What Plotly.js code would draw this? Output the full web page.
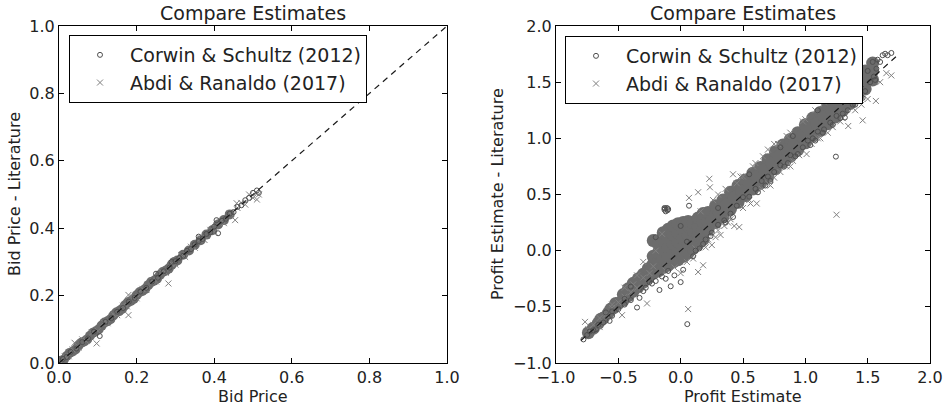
<!DOCTYPE html>
<html>
<head>
<meta charset="utf-8">
<script src="https://cdn.plot.ly/plotly-3.0.1.min.js"></script>
<style>html,body{margin:0;padding:0;background:#fff;}#chart{width:947px;height:410px;}</style>
</head>
<body>
<div id="chart"></div>
<script>
// ---------- Text ----------
const chartTitle = "Compare Estimates";
const seriesNames = ["Corwin & Schultz (2012)", "Abdi & Ranaldo (2017)"];
const leftXLabel = "Bid Price";
const leftYLabel = "Bid Price - Literature";
const rightXLabel = "Profit Estimate";
const rightYLabel = "Profit Estimate - Literature";

// ---------- 45-degree reference lines ----------
const leftDiagX = [0, 1];
const leftDiagY = [0, 1];
const rightDiagX = [-0.8, 1.75];
const rightDiagY = [-0.8, 1.75];

// ---------- Left panel: dense overlapping core ----------
const lCoreX = [0.005,0.02,0.035,0.05,0.065,0.08,0.095,0.11,0.125,0.14,0.155,0.17,0.185,0.20,0.215,0.23,0.245,0.26,0.275,0.29,0.305,0.32,0.335,0.35,0.365,0.38,0.395,0.41,0.425,0.44,
  0.0125,0.0275,0.0425,0.0575,0.0725,0.0875,0.1025,0.1175,0.1325,0.1475,0.1625,0.1775,0.1925,0.2075,0.2225,0.2375,0.2525,0.2675,0.2825,0.2975];
const lCoreY = [0.007,0.021,0.034,0.051,0.064,0.081,0.094,0.111,0.124,0.141,0.154,0.171,0.184,0.201,0.214,0.231,0.244,0.261,0.274,0.291,0.304,0.321,0.334,0.351,0.364,0.381,0.394,0.411,0.424,0.441,
  0.010,0.030,0.040,0.060,0.070,0.090,0.100,0.120,0.130,0.150,0.160,0.180,0.190,0.210,0.220,0.240,0.250,0.270,0.280,0.300];

// Left panel: Corwin & Schultz (2012)
const lCsX = [0.01,0.02,0.03,0.045,0.06,0.075,0.09,0.105,0.12,0.135,0.15,0.165,0.18,0.195,0.21,0.225,0.24,0.255,0.27,0.285,0.30,0.31,0.32,0.33,0.34,0.35,0.36,0.37,0.38,0.39,0.40,0.41,0.42,0.43,0.44,0.45,0.46,0.47,0.48,0.49,0.50,0.51,0.515,0.406,0.36,0.29,0.25];
const lCsY = [0.012,0.018,0.033,0.043,0.062,0.073,0.093,0.08,0.122,0.133,0.152,0.163,0.182,0.193,0.212,0.223,0.242,0.253,0.272,0.283,0.302,0.312,0.318,0.333,0.338,0.352,0.362,0.368,0.383,0.388,0.405,0.385,0.422,0.428,0.443,0.448,0.463,0.468,0.483,0.49,0.505,0.512,0.505,0.424,0.375,0.30,0.265];

// Left panel: Abdi & Ranaldo (2017)
const lArX = [0.005,0.015,0.025,0.035,0.05,0.06,0.07,0.085,0.097,0.10,0.115,0.125,0.14,0.15,0.165,0.175,0.179,0.19,0.20,0.215,0.225,0.24,0.25,0.265,0.275,0.282,0.29,0.30,0.315,0.325,0.34,0.35,0.365,0.375,0.39,0.40,0.415,0.425,0.44,0.454,0.46,0.47,0.48,0.49,0.50,0.51,0.515,0.179,0.04,0.458];
const lArY = [0.0,0.02,0.02,0.04,0.045,0.07,0.065,0.09,0.058,0.095,0.12,0.118,0.145,0.142,0.17,0.168,0.142,0.195,0.192,0.22,0.218,0.245,0.242,0.27,0.268,0.236,0.295,0.292,0.32,0.315,0.345,0.342,0.37,0.365,0.395,0.39,0.42,0.415,0.445,0.424,0.46,0.475,0.47,0.50,0.49,0.485,0.50,0.202,0.06,0.474];

// ---------- Right panel: dense overlapping core ----------
const rCoreX = [-0.74,-0.70,-0.66,-0.62,-0.58,-0.54,-0.50,-0.64,-0.56,-0.52,
  -0.46,-0.46,-0.42,-0.42,-0.38,-0.38,-0.34,-0.34,-0.30,-0.30,-0.26,-0.26,-0.22,-0.22,-0.22,-0.22,
  -0.18,-0.18,-0.18,-0.18, -0.14,-0.14,-0.14,-0.14,-0.14, -0.10,-0.10,-0.10,-0.10,-0.10,
  -0.06,-0.06,-0.06,-0.06,-0.06, -0.02,-0.02,-0.02,-0.02,-0.02, 0.02,0.02,0.02,0.02,0.02,
  0.06,0.06,0.06,0.06,0.06, 0.10,0.10,0.10,0.10, 0.14,0.14,0.14,0.14, 0.18,0.18,0.18,0.18,
  0.22,0.22,0.22, 0.28,0.28,0.28, 0.34,0.34,0.34, 0.40,0.40,0.40, 0.46,0.46,0.46, 0.52,0.52,0.52,
  0.58,0.58,0.58, 0.64,0.64,0.64, 0.70,0.70,0.70, 0.76,0.76,0.76, 0.82,0.82,0.82, 0.88,0.88,0.88,
  0.94,0.94,0.94, 1.00,1.00,1.00, 1.06,1.06,1.06, 1.12,1.12,1.12, 1.18,1.18,1.18, 1.24,1.24,1.24,
  1.30,1.30,1.30, 1.36,1.36,1.36, 1.42,1.42,1.42, 1.48,1.48,1.48, 1.54,1.54,1.54,
  0.25,0.31,0.37,0.43,0.49,0.55,0.61,0.67,0.73,0.79,0.85,0.91,0.97,1.03,1.09,1.15,1.21,1.27,1.33,1.39,1.45,1.51];
const rCoreY = [-0.73,-0.69,-0.645,-0.60,-0.555,-0.51,-0.47,-0.61,-0.52,-0.47,
  -0.44,-0.39,-0.40,-0.34,-0.36,-0.29,-0.32,-0.25,-0.28,-0.21,-0.24,-0.16,-0.20,-0.12,-0.05,0.09,
  -0.18,-0.10,-0.02,0.06, -0.15,-0.07,0.01,0.09,0.16, -0.13,-0.05,0.03,0.11,0.19,
  -0.10,-0.02,0.06,0.14,0.22, -0.08,0.0,0.08,0.16,0.24, -0.05,0.03,0.11,0.19,0.25,
  -0.02,0.06,0.14,0.22,0.26, 0.02,0.10,0.18,0.25, 0.06,0.14,0.22,0.29, 0.10,0.18,0.26,0.33,
  0.19,0.26,0.34, 0.25,0.32,0.40, 0.30,0.38,0.45, 0.37,0.44,0.52, 0.43,0.50,0.58, 0.49,0.56,0.63,
  0.55,0.62,0.69, 0.60,0.68,0.74, 0.66,0.74,0.81, 0.73,0.80,0.88, 0.79,0.86,0.94, 0.84,0.92,0.99,
  0.90,0.98,1.05, 0.96,1.04,1.12, 1.02,1.10,1.18, 1.07,1.15,1.23, 1.13,1.21,1.29, 1.19,1.27,1.35,
  1.25,1.33,1.41, 1.31,1.39,1.47, 1.37,1.45,1.53, 1.44,1.52,1.60, 1.52,1.60,1.67,
  0.27,0.34,0.41,0.47,0.53,0.60,0.66,0.72,0.78,0.84,0.90,0.96,1.02,1.08,1.13,1.19,1.25,1.31,1.37,1.43,1.49,1.56];

// Right panel: Corwin & Schultz (2012)
const rCsX = [-0.78,-0.75,-0.73,-0.70,-0.68,-0.66,-0.62,-0.57,-0.55,-0.50,-0.45,-0.40,-0.35,-0.33,-0.30,-0.28,-0.23,-0.20,-0.17,-0.15,-0.12,-0.08,-0.05,0.00,0.02,0.053,0.05,0.067,-0.10,-0.13,-0.20,
  0.10,0.15,0.20,0.25,0.30,0.35,0.40,0.45,0.50,0.55,0.60,0.65,0.70,0.75,0.80,0.83,0.88,0.94,0.98,1.02,1.06,1.10,1.15,1.20,1.25,1.245,1.30,1.317,1.38,1.42,1.48,1.52,1.55,1.56,1.57,1.60,1.62,1.64,1.66,1.69,1.58,1.54,1.50,
  0.30,0.55,0.80,1.10,-0.40,-0.60,0.0,0.90,
  0.12,0.18,0.24,0.36,0.42,0.62,0.68,0.72,0.86,0.92,1.04,1.08,1.14,1.22,1.28,1.34,1.40,1.46,-0.55,-0.45,-0.25,-0.10,
  -0.13,-0.11,-0.12,-0.105,-0.125];
const rCsY = [-0.79,-0.75,-0.72,-0.71,-0.70,-0.66,-0.64,-0.625,-0.58,-0.52,-0.48,-0.44,-0.506,-0.42,-0.36,-0.33,-0.293,-0.27,-0.35,-0.23,-0.25,-0.317,-0.22,-0.28,-0.17,-0.654,0.08,0.40,0.37,0.38,0.12,
  -0.05,0.02,0.10,0.16,0.23,0.27,0.33,0.40,0.476,0.48,0.55,0.62,0.66,0.70,0.76,0.748,0.85,0.86,0.92,0.98,1.00,1.06,1.08,1.14,1.20,0.837,1.22,1.185,1.30,1.38,1.42,1.50,1.55,1.52,1.62,1.68,1.74,1.753,1.74,1.76,1.70,1.68,1.60,
  0.38,0.68,0.92,1.25,-0.32,-0.55,0.22,1.02,
  0.0,0.06,0.13,0.25,0.30,0.52,0.58,0.62,0.78,0.84,0.94,0.98,1.05,1.12,1.18,1.25,1.30,1.36,-0.54,-0.43,-0.28,-0.18,
  0.365,0.38,0.35,0.36,0.375];

// Right panel: Abdi & Ranaldo (2017)
const rArX = [-0.767,-0.74,-0.70,-0.65,-0.60,-0.55,-0.50,-0.47,-0.45,-0.40,-0.38,-0.35,-0.30,-0.27,-0.25,-0.22,-0.12,-0.05,0.00,0.06,0.05,0.10,0.14,0.18,0.20,0.22,0.25,0.28,0.30,0.32,0.35,0.38,0.43,0.47,0.50,0.55,0.61,0.65,0.70,0.75,0.80,0.85,0.90,0.95,1.01,1.05,1.10,1.18,1.22,1.28,1.344,1.40,1.46,1.45,1.50,1.566,1.60,1.65,1.69,1.25,
  0.067,0.14,0.23,0.235,0.42,0.45,0.60,0.70,0.75,0.85,1.00,1.15,1.25,-0.30,-0.45,-0.15,0.30,0.50,
  0.16,0.26,0.36,0.48,0.58,0.66,0.78,0.88,0.98,1.08,1.18,0.40,0.56,0.72,0.88,1.12,1.30,-0.35,-0.55,-0.20,-0.65,0.12];
const rArY = [-0.634,-0.70,-0.66,-0.60,-0.57,-0.51,-0.46,-0.574,-0.41,-0.37,-0.30,-0.33,-0.24,-0.47,-0.20,-0.14,-0.18,-0.15,-0.20,-0.52,-0.10,-0.07,-0.19,-0.13,0.03,0.10,0.05,0.12,0.18,0.14,0.22,0.25,0.22,0.21,0.38,0.45,0.42,0.55,0.60,0.65,0.70,0.75,0.80,0.85,0.86,0.95,1.00,1.05,1.10,1.15,1.11,1.25,1.16,1.30,1.35,1.333,1.50,1.58,1.56,0.32,
  0.47,0.52,0.64,0.564,0.68,0.60,0.78,0.90,0.95,1.02,1.17,1.32,1.42,-0.10,-0.33,0.15,0.50,0.66,
  0.35,0.45,0.55,0.66,0.75,0.84,0.95,1.05,1.15,1.25,1.35,0.28,0.42,0.58,0.75,1.00,1.18,-0.22,-0.48,0.0,-0.68,0.02];

// ---------- Styling ----------
const FONT = "DejaVu Sans, sans-serif";
const CS_COLOR = "#4f4f4f";
const AR_COLOR = "#808080";
const CORE_COLOR = "#6c6c6c";

function core(x, y, xa, ya, size) {
  return {x: x, y: y, xaxis: xa, yaxis: ya, type: "scatter", mode: "markers", showlegend: false, hoverinfo: "skip",
    marker: {symbol: "circle", size: size, color: CORE_COLOR, line: {width: 0}}};
}
function csTrace(x, y, xa, ya, leg, show) {
  return {x: x, y: y, xaxis: xa, yaxis: ya, type: "scatter", mode: "markers", name: seriesNames[0], legend: leg, showlegend: show,
    marker: {symbol: "circle-open", size: 5, color: CS_COLOR, line: {width: 1, color: CS_COLOR}}};
}
function arTrace(x, y, xa, ya, leg, show) {
  return {x: x, y: y, xaxis: xa, yaxis: ya, type: "scatter", mode: "markers", name: seriesNames[1], legend: leg, showlegend: show,
    marker: {symbol: "x-thin-open", size: 6, color: AR_COLOR, line: {width: 1, color: AR_COLOR}}};
}
function diag(x, y, xa, ya) {
  return {x: x, y: y, xaxis: xa, yaxis: ya, type: "scatter", mode: "lines", showlegend: false, hoverinfo: "skip",
    line: {color: "#1a1a1a", width: 1.2, dash: "6px,5px"}};
}

const data = [
  core(lCoreX, lCoreY, "x", "y", 10),
  arTrace(lArX, lArY, "x", "y", "legend", true),
  csTrace(lCsX, lCsY, "x", "y", "legend", true),
  diag(leftDiagX, leftDiagY, "x", "y"),
  core(rCoreX, rCoreY, "x2", "y2", 13),
  arTrace(rArX, rArY, "x2", "y2", "legend2", true),
  csTrace(rCsX, rCsY, "x2", "y2", "legend2", true),
  diag(rightDiagX, rightDiagY, "x2", "y2")
];

const W = 947, H = 410;
function px(x) { return x / W; }
function py(y) { return 1 - y / H; }

function axisBase(range, dtick) {
  return {range: range, dtick: dtick, tick0: 0, tickformat: ".1f", ticks: "inside", ticklen: 5, tickwidth: 1, tickcolor: "#000",
    showline: true, linecolor: "#000", linewidth: 1, mirror: "allticks", showgrid: false, zeroline: false,
    tickfont: {family: FONT, size: 16, color: "#222"}, fixedrange: true};
}

const legendBase = {bgcolor: "#fff", bordercolor: "#000", borderwidth: 1, font: {family: FONT, size: 19, color: "#222"},
  xanchor: "left", yanchor: "top", traceorder: "reversed", itemwidth: 50, tracegroupgap: 0};

const layout = {
  width: W, height: H,
  margin: {l: 0, r: 0, t: 0, b: 0},
  paper_bgcolor: "#fff", plot_bgcolor: "#fff",
  showlegend: true,
  xaxis: Object.assign(axisBase([0, 1], 0.2), {domain: [px(59), px(447)], anchor: "y"}),
  yaxis: Object.assign(axisBase([0, 1], 0.2), {domain: [py(363), py(26)], anchor: "x"}),
  xaxis2: Object.assign(axisBase([-1, 2], 0.5), {domain: [px(556), px(930)], anchor: "y2"}),
  yaxis2: Object.assign(axisBase([-1, 2], 0.5), {domain: [py(363), py(26)], anchor: "x2"}),
  legend: Object.assign({}, legendBase, {x: px(69), y: py(35)}),
  legend2: Object.assign({}, legendBase, {x: px(565), y: py(36)}),
  annotations: [
    {text: chartTitle, x: px(253), y: py(13), xref: "paper", yref: "paper", xanchor: "center", yanchor: "middle", showarrow: false, font: {family: FONT, size: 19, color: "#222"}},
    {text: chartTitle, x: px(743), y: py(13), xref: "paper", yref: "paper", xanchor: "center", yanchor: "middle", showarrow: false, font: {family: FONT, size: 19, color: "#222"}},
    {text: leftXLabel, x: px(253), y: py(396), xref: "paper", yref: "paper", xanchor: "center", yanchor: "middle", showarrow: false, font: {family: FONT, size: 16, color: "#222"}},
    {text: rightXLabel, x: px(743), y: py(396), xref: "paper", yref: "paper", xanchor: "center", yanchor: "middle", showarrow: false, font: {family: FONT, size: 16, color: "#222"}},
    {text: leftYLabel, x: px(14), y: py(194), xref: "paper", yref: "paper", xanchor: "center", yanchor: "middle", textangle: -90, showarrow: false, font: {family: FONT, size: 16, color: "#222"}},
    {text: rightYLabel, x: px(497), y: py(194), xref: "paper", yref: "paper", xanchor: "center", yanchor: "middle", textangle: -90, showarrow: false, font: {family: FONT, size: 16, color: "#222"}}
  ]
};

Plotly.newPlot("chart", data, layout, {staticPlot: true, displayModeBar: false});
</script>
</body>
</html>
